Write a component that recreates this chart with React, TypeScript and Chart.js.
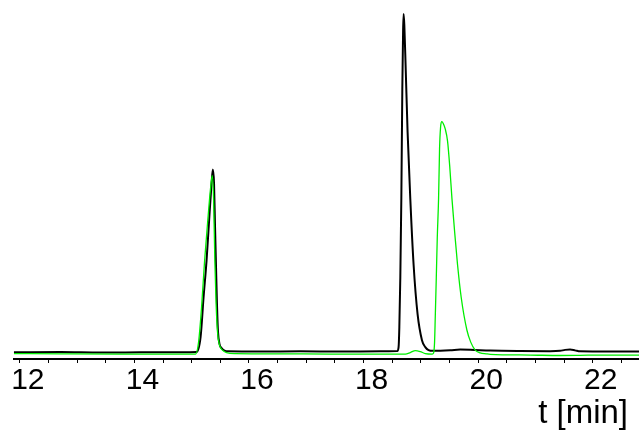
import React, { useEffect, useRef } from "react";
import { Chart, registerables } from "chart.js";

Chart.register(...registerables);

// Time axis (minutes)
const T_MIN = 11.895;
const T_MAX = 22.807;
const TICK_STEP = 0.5;
const X_TITLE = "t [min]";

// Black trace
const blackTime = [
  11.895, 12.715, 13.412, 14.109, 14.806, 15.085, 15.155, 15.207, 15.259, 15.312,
  15.347, 15.369, 15.39, 15.408, 15.425, 15.443, 15.46, 15.486, 15.521, 15.573,
  15.643, 16.201, 16.898, 17.595, 18.292, 18.589, 18.611, 18.624, 18.641, 18.659,
  18.676, 18.69, 18.699, 18.711, 18.734, 18.768, 18.815, 18.873, 18.943, 19.019,
  19.077, 19.134, 19.216, 19.513, 19.687, 19.861, 20.21, 20.733, 21.256, 21.43,
  21.517, 21.604, 21.691, 21.778, 22.301, 22.807,
];
const blackSignal = [
  1.85, 1.93, 1.8, 1.85, 1.88, 1.93, 6.08, 17.13, 27.35, 40.61,
  48.9, 52.76, 48.9, 36.46, 25.41, 14.36, 7.46, 4.14, 3.04, 2.35,
  2.13, 2.07, 2.13, 2.07, 2.15, 2.21, 3.31, 8.84, 22.65, 44.75,
  75.14, 91.71, 96.13, 93.09, 81.49, 63.26, 44.75, 26.24, 12.43, 5.25,
  3.31, 2.49, 2.27, 2.43, 2.62, 2.57, 2.35, 2.21, 2.15, 2.27,
  2.54, 2.62, 2.4, 2.13, 2.07, 2.07,
];

// Green trace
const greenTime = [
  11.895, 12.715, 13.761, 15.068, 15.12, 15.172, 15.225, 15.277, 15.329, 15.359,
  15.382, 15.404, 15.425, 15.451, 15.486, 15.538, 15.608, 15.765, 16.549, 17.421,
  18.292, 18.728, 18.815, 18.903, 18.99, 19.077, 19.199, 19.222, 19.239, 19.251,
  19.269, 19.286, 19.309, 19.326, 19.344, 19.365, 19.39, 19.425, 19.465, 19.504,
  19.542, 19.591, 19.64, 19.704, 19.804, 19.87, 19.948, 20.035, 20.14, 20.21,
  20.907, 21.43, 21.778, 22.127, 22.807,
];
const greenSignal = [
  1.52, 1.44, 1.38, 1.38, 4.7, 14.36, 27.35, 37.85, 47.51, 51.1,
  44.75, 27.35, 15.75, 7.46, 3.87, 2.49, 1.8, 1.52, 1.44, 1.38,
  1.38, 1.38, 1.8, 2.35, 2.07, 1.52, 1.38, 1.66, 4.7, 11.6,
  22.65, 33.7, 44.75, 58.56, 64.64, 66.1, 65.61, 64.09, 60.77, 53.59,
  44.75, 35.08, 26.24, 17.13, 8.01, 4.7, 2.49, 1.71, 1.44, 1.3,
  1.1, 0.97, 1.02, 1.1, 1.1,
];

const FONT_FAMILY = "'Liberation Sans', Arial, Helvetica, sans-serif";

export default function App() {
  const canvasRef = useRef<HTMLCanvasElement | null>(null);

  useEffect(() => {
    document.body.style.margin = "0";
    const canvas = canvasRef.current;
    if (!canvas) return;

    const titlePlugin = {
      id: "xTitle",
      afterDraw(chart: any) {
        const ctx = chart.ctx;
        ctx.save();
        ctx.font = `33px ${FONT_FAMILY}`;
        ctx.fillStyle = "#000";
        ctx.textAlign = "right";
        ctx.textBaseline = "alphabetic";
        ctx.fillText(X_TITLE, 628, 423);
        ctx.restore();
      },
    };

    const chart = new Chart(canvas, {
      type: "line",
      data: {
        datasets: [
          {
            label: "green",
            data: greenTime.map((t, i) => ({ x: t, y: greenSignal[i] })),
            borderColor: "#00ee00",
            borderWidth: 1.3,
            pointRadius: 0,
            fill: false,
            cubicInterpolationMode: "monotone",
          },
          {
            label: "black",
            data: blackTime.map((t, i) => ({ x: t, y: blackSignal[i] })),
            borderColor: "#000000",
            borderWidth: 2,
            pointRadius: 0,
            fill: false,
            cubicInterpolationMode: "monotone",
          },
        ],
      },
      options: {
        animation: false,
        responsive: false,
        maintainAspectRatio: false,
        layout: { padding: { left: 13, right: 0, top: 0, bottom: 33 } },
        plugins: { legend: { display: false }, tooltip: { enabled: false } },
        scales: {
          x: {
            type: "linear",
            position: "bottom",
            min: T_MIN,
            max: T_MAX,
            grid: {
              display: true,
              drawOnChartArea: false,
              drawTicks: true,
              tickLength: 4,
              tickColor: "#000",
              tickWidth: 1,
            },
            border: { display: true, color: "#000", width: 2 },
            ticks: {
              stepSize: TICK_STEP,
              includeBounds: false,
              autoSkip: false,
              maxRotation: 0,
              padding: 3,
              labelOffset: 8,
              color: "#000",
              font: { family: FONT_FAMILY, size: 30, lineHeight: 1 },
              callback: (v: any) => (Math.abs(v % 2) < 1e-6 ? String(v) : ""),
            },
            title: { display: false },
          },
          y: { display: false, min: 0, max: 100 },
        },
      },
      plugins: [titlePlugin],
    });
    return () => chart.destroy();
  }, []);

  return (
    <div style={{ position: "absolute", left: 0, top: 0, width: 639, height: 432, background: "#fff" }}>
      <canvas ref={canvasRef} width={639} height={432} />
    </div>
  );
}
